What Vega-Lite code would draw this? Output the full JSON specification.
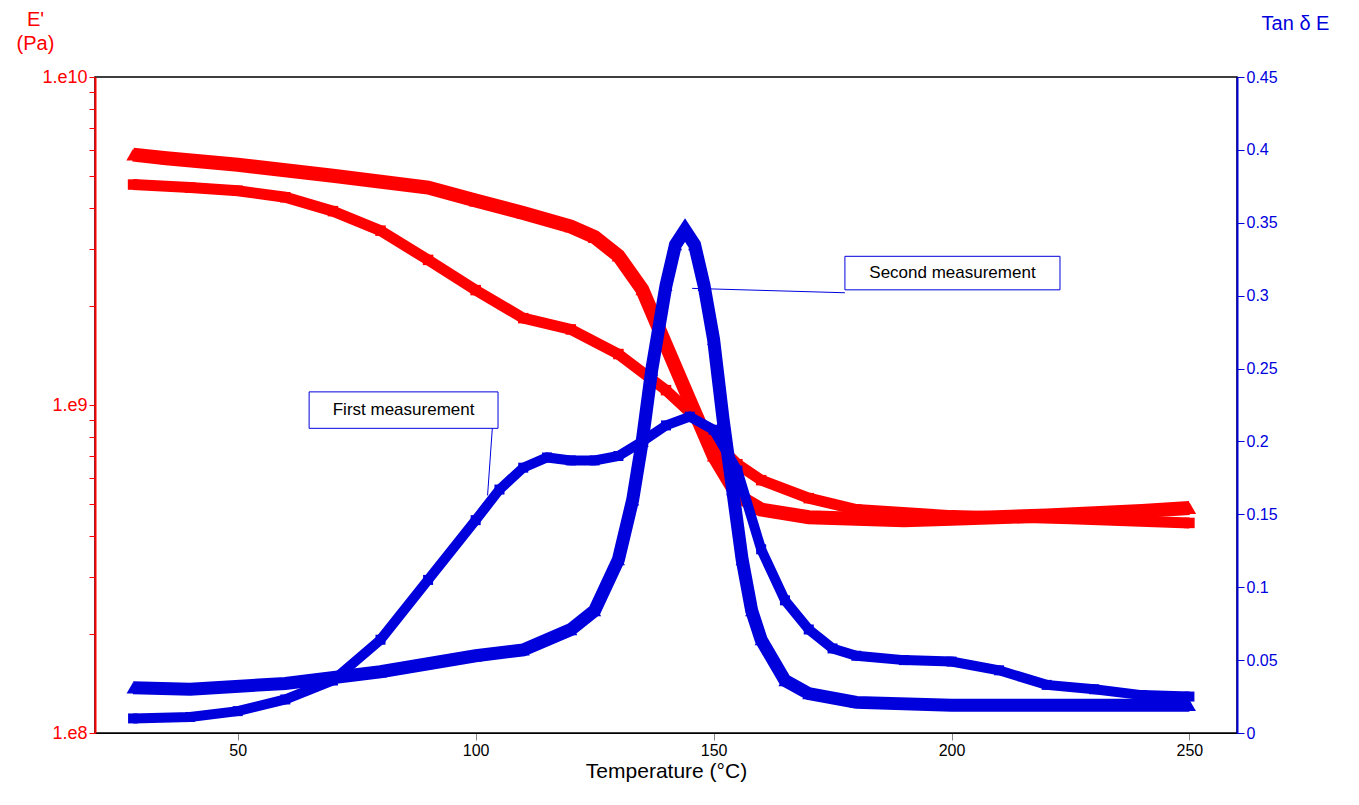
{
  "$schema": "https://vega.github.io/schema/vega-lite/v6.json",
  "width": 1142,
  "height": 656,
  "autosize": "none",
  "padding": {"left": 95, "top": 77, "right": 122, "bottom": 72},
  "background": "white",
  "config": {
    "view": {"stroke": "black", "strokeWidth": 1.5},
    "axis": {"grid": false, "labelFont": "Liberation Sans", "titleFont": "Liberation Sans", "titleFontWeight": "normal"},
    "text": {"font": "Liberation Sans"}
  },
  "datasets": {
    "E": [
      {"s": "E2", "T": 28, "E": 5.8e9}, {"s": "E2", "T": 35, "E": 5.65e9}, {"s": "E2", "T": 50, "E": 5.4e9},
      {"s": "E2", "T": 70, "E": 5.0e9}, {"s": "E2", "T": 90, "E": 4.6e9}, {"s": "E2", "T": 100, "E": 4.2e9},
      {"s": "E2", "T": 110, "E": 3.85e9}, {"s": "E2", "T": 120, "E": 3.5e9}, {"s": "E2", "T": 125, "E": 3.25e9},
      {"s": "E2", "T": 130, "E": 2.85e9}, {"s": "E2", "T": 135, "E": 2.25e9}, {"s": "E2", "T": 140, "E": 1.52e9},
      {"s": "E2", "T": 145, "E": 1.03e9}, {"s": "E2", "T": 150, "E": 7.0e8}, {"s": "E2", "T": 155, "E": 5.3e8},
      {"s": "E2", "T": 160, "E": 4.8e8}, {"s": "E2", "T": 170, "E": 4.55e8}, {"s": "E2", "T": 180, "E": 4.5e8},
      {"s": "E2", "T": 190, "E": 4.45e8}, {"s": "E2", "T": 200, "E": 4.5e8}, {"s": "E2", "T": 220, "E": 4.6e8},
      {"s": "E2", "T": 240, "E": 4.75e8}, {"s": "E2", "T": 250, "E": 4.85e8},
      {"s": "E1", "T": 28, "E": 4.7e9}, {"s": "E1", "T": 40, "E": 4.6e9}, {"s": "E1", "T": 50, "E": 4.5e9},
      {"s": "E1", "T": 60, "E": 4.3e9}, {"s": "E1", "T": 70, "E": 3.9e9}, {"s": "E1", "T": 80, "E": 3.4e9},
      {"s": "E1", "T": 90, "E": 2.77e9}, {"s": "E1", "T": 100, "E": 2.24e9}, {"s": "E1", "T": 110, "E": 1.84e9},
      {"s": "E1", "T": 120, "E": 1.7e9}, {"s": "E1", "T": 130, "E": 1.43e9}, {"s": "E1", "T": 140, "E": 1.11e9},
      {"s": "E1", "T": 145, "E": 9.5e8}, {"s": "E1", "T": 150, "E": 7.8e8}, {"s": "E1", "T": 155, "E": 6.6e8},
      {"s": "E1", "T": 160, "E": 5.9e8}, {"s": "E1", "T": 170, "E": 5.2e8}, {"s": "E1", "T": 180, "E": 4.8e8},
      {"s": "E1", "T": 200, "E": 4.6e8}, {"s": "E1", "T": 225, "E": 4.5e8}, {"s": "E1", "T": 250, "E": 4.37e8}
    ],
    "tan": [
      {"s": "T1", "T": 28, "v": 0.010}, {"s": "T1", "T": 40, "v": 0.011}, {"s": "T1", "T": 50, "v": 0.015},
      {"s": "T1", "T": 60, "v": 0.023}, {"s": "T1", "T": 70, "v": 0.036}, {"s": "T1", "T": 80, "v": 0.064},
      {"s": "T1", "T": 90, "v": 0.105}, {"s": "T1", "T": 100, "v": 0.146}, {"s": "T1", "T": 105, "v": 0.167},
      {"s": "T1", "T": 110, "v": 0.182}, {"s": "T1", "T": 115, "v": 0.189}, {"s": "T1", "T": 120, "v": 0.187},
      {"s": "T1", "T": 125, "v": 0.187}, {"s": "T1", "T": 130, "v": 0.19}, {"s": "T1", "T": 135, "v": 0.2},
      {"s": "T1", "T": 140, "v": 0.211}, {"s": "T1", "T": 145, "v": 0.217}, {"s": "T1", "T": 150, "v": 0.208},
      {"s": "T1", "T": 155, "v": 0.18}, {"s": "T1", "T": 160, "v": 0.126}, {"s": "T1", "T": 165, "v": 0.091},
      {"s": "T1", "T": 170, "v": 0.071}, {"s": "T1", "T": 175, "v": 0.058}, {"s": "T1", "T": 180, "v": 0.053},
      {"s": "T1", "T": 190, "v": 0.05}, {"s": "T1", "T": 200, "v": 0.049}, {"s": "T1", "T": 210, "v": 0.043},
      {"s": "T1", "T": 220, "v": 0.033}, {"s": "T1", "T": 230, "v": 0.03}, {"s": "T1", "T": 240, "v": 0.026},
      {"s": "T1", "T": 250, "v": 0.025},
      {"s": "T2", "T": 28, "v": 0.031}, {"s": "T2", "T": 40, "v": 0.03}, {"s": "T2", "T": 60, "v": 0.034},
      {"s": "T2", "T": 80, "v": 0.042}, {"s": "T2", "T": 100, "v": 0.053}, {"s": "T2", "T": 110, "v": 0.057},
      {"s": "T2", "T": 120, "v": 0.071}, {"s": "T2", "T": 125, "v": 0.084}, {"s": "T2", "T": 130, "v": 0.119},
      {"s": "T2", "T": 133, "v": 0.16}, {"s": "T2", "T": 135, "v": 0.2}, {"s": "T2", "T": 137, "v": 0.249},
      {"s": "T2", "T": 140, "v": 0.307}, {"s": "T2", "T": 142, "v": 0.335}, {"s": "T2", "T": 144, "v": 0.345},
      {"s": "T2", "T": 146, "v": 0.335}, {"s": "T2", "T": 148, "v": 0.307}, {"s": "T2", "T": 150, "v": 0.27},
      {"s": "T2", "T": 152, "v": 0.215}, {"s": "T2", "T": 154, "v": 0.167}, {"s": "T2", "T": 156, "v": 0.119},
      {"s": "T2", "T": 158, "v": 0.084}, {"s": "T2", "T": 160, "v": 0.064}, {"s": "T2", "T": 165, "v": 0.036},
      {"s": "T2", "T": 170, "v": 0.027}, {"s": "T2", "T": 180, "v": 0.021}, {"s": "T2", "T": 200, "v": 0.019},
      {"s": "T2", "T": 250, "v": 0.019}
    ],
    "boxes": [
      {"label": "Second measurement", "x1": 177.6, "x2": 222.8, "y1": 0.304, "y2": 0.327, "xc": 200.2, "yc": 0.3155},
      {"label": "First measurement", "x1": 65, "x2": 104.7, "y1": 0.209, "y2": 0.234, "xc": 84.85, "yc": 0.2215}
    ],
    "leaders": [
      {"k": "a", "T": 145.5, "v": 0.305}, {"k": "a", "T": 177.6, "v": 0.302},
      {"k": "b", "T": 103.5, "v": 0.209}, {"k": "b", "T": 102.5, "v": 0.163}
    ]
  },
  "encoding": {
    "x": {
      "field": "T", "type": "quantitative",
      "scale": {"domain": [20, 260], "nice": false},
      "axis": {"values": [50, 100, 150, 200, 250], "title": "Temperature (°C)", "titleFontSize": 21, "titlePadding": 2, "tickSize": 7, "domainColor": "black", "labelColor": "black", "labelFontSize": 16}
    }
  },
  "layer": [
    {
      "data": {"name": "E"},
      "encoding": {
        "y": {
          "field": "E", "type": "quantitative",
          "scale": {"type": "log", "domain": [1e8, 1e10], "nice": false},
          "axis": {
            "values": [1e8, 2e8, 3e8, 4e8, 5e8, 6e8, 7e8, 8e8, 9e8, 1e9, 2e9, 3e9, 4e9, 5e9, 6e9, 7e9, 8e9, 9e9, 1e10],
            "labelExpr": "datum.value == 1e8 ? '1.e8' : datum.value == 1e9 ? '1.e9' : datum.value == 1e10 ? '1.e10' : ''",
            "labelFontSize": 18,
            "domainColor": "red", "tickColor": "red", "labelColor": "red", "titleColor": "red",
            "tickSize": 6, "domainWidth": 2,
            "title": ["E'", "(Pa)"], "titleAngle": 0, "titleFontSize": 20, "titleLineHeight": 24,
            "titleX": -60, "titleY": -68, "titleAlign": "center", "titleBaseline": "top"
          }
        }
      },
      "layer": [
        {"transform": [{"filter": "datum.s == 'E2'"}], "mark": {"type": "line", "color": "red", "strokeWidth": 14}},
        {"transform": [{"filter": "datum.s == 'E1'"}], "mark": {"type": "line", "color": "red", "strokeWidth": 11}},
        {"transform": [{"filter": "datum.s == 'E2'"}], "mark": {"type": "point", "shape": "triangle-up", "filled": true, "opacity": 1, "color": "red", "size": 180}},
        {"transform": [{"filter": "datum.s == 'E1'"}], "mark": {"type": "point", "shape": "square", "filled": true, "opacity": 1, "color": "red", "size": 110}}
      ]
    },
    {
      "encoding": {
        "y": {
          "field": "v", "type": "quantitative",
          "scale": {"domain": [0, 0.45], "nice": false},
          "axis": {
            "orient": "right", "values": [0, 0.05, 0.1, 0.15, 0.2, 0.25, 0.3, 0.35, 0.4, 0.45], "format": "~g",
            "labelFontSize": 16,
            "domainColor": "#0000dd", "tickColor": "#0000dd", "labelColor": "#0000dd", "titleColor": "#0000dd",
            "tickSize": 7, "domainWidth": 2,
            "title": "Tan δ E", "titleAngle": 0, "titleFontSize": 20, "titleX": 58, "titleY": -44, "titleAlign": "center", "titleBaseline": "bottom"
          }
        }
      },
      "layer": [
        {"data": {"name": "tan"}, "transform": [{"filter": "datum.s == 'T2'"}], "mark": {"type": "line", "color": "#0000dd", "strokeWidth": 13}},
        {"data": {"name": "tan"}, "transform": [{"filter": "datum.s == 'T1'"}], "mark": {"type": "line", "color": "#0000dd", "strokeWidth": 10}},
        {"data": {"name": "tan"}, "transform": [{"filter": "datum.s == 'T2'"}], "mark": {"type": "point", "shape": "triangle-up", "filled": true, "opacity": 1, "color": "#0000dd", "size": 170}},
        {"data": {"name": "tan"}, "transform": [{"filter": "datum.s == 'T1'"}], "mark": {"type": "point", "shape": "square", "filled": true, "opacity": 1, "color": "#0000dd", "size": 100}},
        {"data": {"name": "leaders"}, "mark": {"type": "line", "color": "#0000dd", "strokeWidth": 1}, "encoding": {"detail": {"field": "k"}}},
        {"data": {"name": "boxes"}, "mark": {"type": "rect", "fill": "white", "stroke": "#0000dd", "strokeWidth": 1},
          "encoding": {"x": {"field": "x1", "type": "quantitative"}, "x2": {"field": "x2"}, "y": {"field": "y1", "type": "quantitative"}, "y2": {"field": "y2"}}},
        {"data": {"name": "boxes"}, "mark": {"type": "text", "fontSize": 17, "color": "black"},
          "encoding": {"x": {"field": "xc", "type": "quantitative"}, "y": {"field": "yc", "type": "quantitative"}, "text": {"field": "label"}}}
      ]
    }
  ],
  "resolve": {"scale": {"y": "independent"}}
}
